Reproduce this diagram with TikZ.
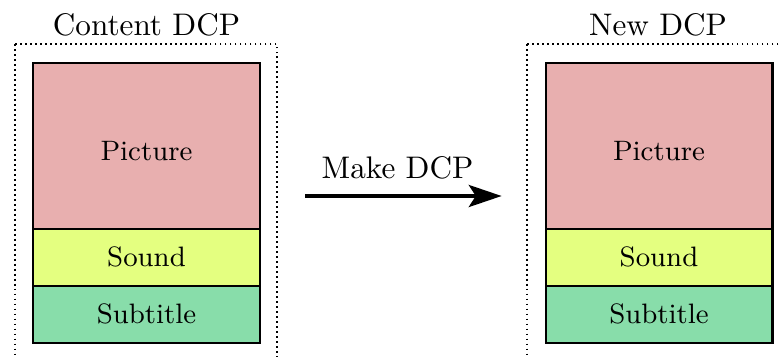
\documentclass[tikz,border=0pt]{standalone}
\usetikzlibrary{arrows.meta}
\definecolor{picc}{RGB}{232,175,175}
\definecolor{sndc}{RGB}{228,255,128}
\definecolor{subc}{RGB}{136,221,170}
\begin{document}
\begin{tikzpicture}[x=0.3205pt,y=-0.3205pt,
  frame/.style={densely dotted, line width=0.6pt},
  part/.style={draw=black, line width=0.7pt},
  lbl/.style={anchor=base, inner sep=0pt, font=\small},
  ttl/.style={anchor=base, inner sep=0pt}]
\useasboundingbox (0,0) rectangle (781,356);
\clip (0,0) rectangle (781,356);
% left DCP
\draw[frame] (15,44) rectangle (277,362);
\draw[part, fill=picc] (33,63) rectangle (260,229);
\draw[part, fill=sndc] (33,229) rectangle (260,286);
\draw[part, fill=subc] (33,286) rectangle (260,343);
\node[ttl] (t1) at (146.5,35) {Content DCP};
\node[lbl] (p1) at (146.5,160) {Picture};
\node[lbl] (s1) at (146.5,266.7) {Sound};
\node[lbl] (u1) at (146.5,323.3) {Subtitle};
% right DCP
\draw[frame] (527,44) rectangle (789,362);
\draw[part, fill=picc] (546,63) rectangle (772.5,229);
\draw[part, fill=sndc] (546,229) rectangle (772.5,286);
\draw[part, fill=subc] (546,286) rectangle (772.5,343);
\node[ttl] (t2) at (658,35) {New DCP};
\node[lbl] (p2) at (659,160) {Picture};
\node[lbl] (s2) at (659,266.7) {Sound};
\node[lbl] (u2) at (659,323.3) {Subtitle};
% arrow
\coordinate (a1) at (305,196);
\coordinate (a2) at (501.7,196);
\draw[line width=1.5pt, -{Stealth[length=10.5pt,width=7pt,inset=2.2pt]}] (a1) -- (a2);
\node[ttl] (mk) at (397.5,178) {Make DCP};
\end{tikzpicture}
\end{document}
